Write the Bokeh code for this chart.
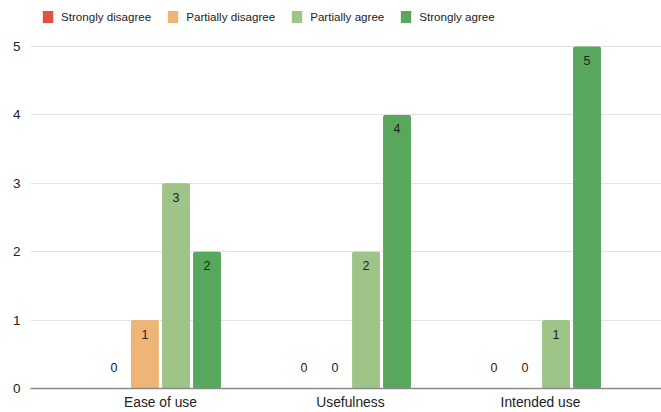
from bokeh.plotting import figure
from bokeh.models import ColumnDataSource, Legend, LegendItem, FixedTicker, Range1d
from bokeh.core.properties import value
from bokeh.embed import file_html
from bokeh.resources import INLINE

categories = ["Ease of use", "Usefulness", "Intended use"]
series_names = ["Strongly disagree", "Partially disagree", "Partially agree", "Strongly agree"]
strongly_disagree = [0, 0, 0]
partially_disagree = [1, 0, 0]
partially_agree = [3, 2, 1]
strongly_agree = [2, 4, 5]
y_ticks = [0, 1, 2, 3, 4, 5]

series_values = [strongly_disagree, partially_disagree, partially_agree, strongly_agree]
colors = ["#de5243", "#eeb577", "#9ec487", "#57a85c"]
offsets = [-0.245, -0.082, 0.082, 0.245]
FONT = "Liberation Sans"

# frame spans the full figure height (legend lives inside the top of the frame)
p = figure(width=661, height=412, output_backend="svg", toolbar_location=None,
           x_range=Range1d(-0.684, 2.637), y_range=Range1d(0, 5.6725),
           min_border_left=30, min_border_right=0, min_border_top=0, min_border_bottom=24)
p.outline_line_color = None
p.background_fill_color = "white"

items = []
xs = list(range(len(categories)))
for name, vals, col, off in zip(series_names, series_values, colors, offsets):
    src = ColumnDataSource(dict(
        x=[i + off for i in xs], top=vals,
        label=[str(v) for v in vals],
        yoff=[14 if v > 0 else -21 for v in vals],
    ))
    r = p.vbar(x="x", top="top", bottom=0, width=0.147, source=src,
               fill_color=col, line_color=None, border_radius=2)
    p.text(x="x", y="top", text="label", source=src, y_offset="yoff",
           text_align="center", text_baseline="middle",
           text_font=value(FONT), text_font_size="12.5px", text_color="#222222")
    items.append(LegendItem(label=name, renderers=[r]))

legend = Legend(items=items, orientation="horizontal", location=(11, 364),
                padding=0, margin=0, border_line_color=None, background_fill_alpha=0,
                glyph_width=13, glyph_height=15, label_height=15,
                label_standoff=7, spacing=15,
                label_text_font=FONT, label_text_font_size="11.6px",
                label_text_color="#222222")
p.add_layout(legend, "center")

p.xaxis.ticker = FixedTicker(ticks=xs)
p.xaxis.major_label_overrides = {i: c for i, c in zip(xs, categories)}
p.xaxis.major_tick_line_color = None
p.xaxis.major_tick_out = 0
p.xaxis.major_tick_in = 0
p.xaxis.minor_tick_line_color = None
p.xaxis.axis_line_color = "#8a8a8a"
p.xaxis.axis_line_width = 1.5
p.xaxis.major_label_standoff = 6
p.xaxis.major_label_text_font = FONT
p.xaxis.major_label_text_font_size = "13.8px"
p.xaxis.major_label_text_color = "#222222"

p.yaxis.ticker = FixedTicker(ticks=y_ticks)
p.yaxis.axis_line_color = None
p.yaxis.major_tick_line_color = None
p.yaxis.major_tick_out = 0
p.yaxis.major_tick_in = 0
p.yaxis.minor_tick_line_color = None
p.yaxis.major_label_standoff = 10
p.yaxis.major_label_text_font = FONT
p.yaxis.major_label_text_font_size = "13.5px"
p.yaxis.major_label_text_color = "#222222"

p.xgrid.grid_line_color = None
p.ygrid.ticker = FixedTicker(ticks=y_ticks[1:])
p.ygrid.grid_line_color = "#e3e3e3"
p.ygrid.grid_line_width = 1.2

open("out.html", "w").write(file_html(p, INLINE))
